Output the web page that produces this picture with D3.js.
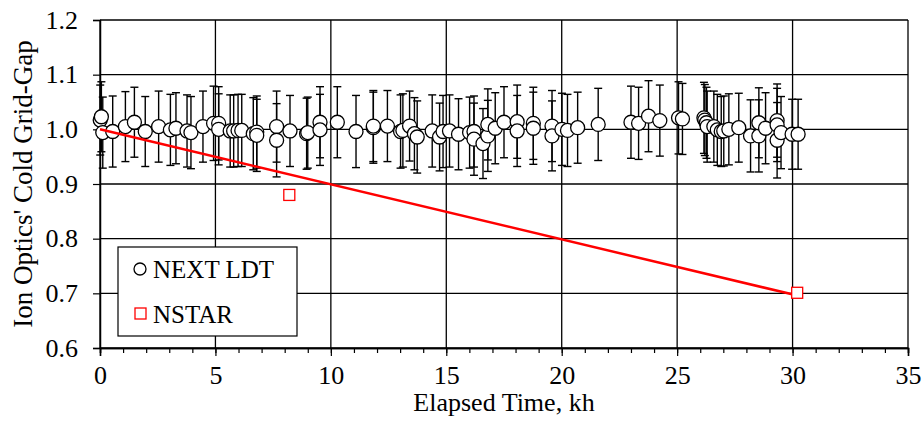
<!DOCTYPE html>
<html><head><meta charset="utf-8">
<script src="https://cdn.jsdelivr.net/npm/d3@7"></script>
<style>body{margin:0;background:#fff}svg{display:block}text{font-family:"Liberation Serif","Times New Roman",serif;fill:#000}</style>
</head><body><div id="chart"></div>
<script>
// NEXT LDT data: elapsed time (kh), normalized cold grid gap, error half-width
const ldtTime = [0.01,0.06,0.12,0.55,1.10,1.49,1.96,2.54,3.05,3.29,3.77,3.94,4.46,4.92,5.14,5.14,5.64,5.79,5.98,6.14,6.64,6.79,6.79,7.65,7.65,8.23,8.95,9.00,9.53,9.53,10.28,11.09,11.84,11.84,12.45,13.02,13.12,13.41,13.62,13.74,14.39,14.71,14.86,15.14,15.53,16.01,16.20,16.20,16.59,16.80,16.80,17.12,17.50,18.07,18.07,18.77,18.77,19.58,19.58,20.01,20.25,20.69,21.58,23.00,23.33,23.76,24.25,25.06,25.23,26.16,26.20,26.27,26.30,26.59,26.74,26.91,27.02,27.24,27.67,28.18,28.54,28.54,28.83,29.33,29.33,29.33,29.50,29.98,30.24];
const ldtGap  = [1.017,1.023,0.994,0.996,1.005,1.013,0.996,1.005,0.999,1.002,0.997,0.994,1.005,1.011,1.011,1.000,0.997,0.997,0.998,0.998,0.992,0.995,0.989,1.005,0.980,0.997,0.992,0.994,1.013,0.999,1.013,0.996,1.003,1.006,1.006,0.996,0.998,1.006,0.992,0.986,0.997,0.986,0.996,0.997,0.991,0.994,0.996,0.982,0.974,0.988,1.009,1.002,1.013,1.014,0.997,1.011,1.002,1.006,0.988,1.000,0.998,1.003,1.009,1.013,1.011,1.024,1.016,1.021,1.019,1.021,1.017,1.012,1.005,1.005,0.999,0.996,0.997,1.000,1.003,0.988,0.988,1.012,1.002,1.016,1.008,0.980,0.994,0.991,0.991];
const ldtErr  = [0.064,0.064,0.065,0.065,0.064,0.064,0.064,0.065,0.065,0.065,0.066,0.066,0.065,0.068,0.067,0.065,0.066,0.066,0.066,0.066,0.066,0.066,0.066,0.065,0.067,0.065,0.065,0.065,0.065,0.065,0.065,0.066,0.065,0.065,0.065,0.067,0.067,0.064,0.066,0.066,0.066,0.062,0.066,0.066,0.065,0.065,0.065,0.066,0.064,0.065,0.065,0.065,0.065,0.067,0.065,0.066,0.066,0.065,0.064,0.066,0.066,0.065,0.066,0.066,0.066,0.065,0.065,0.066,0.065,0.065,0.065,0.065,0.065,0.065,0.065,0.064,0.064,0.065,0.063,0.066,0.066,0.064,0.065,0.067,0.067,0.069,0.066,0.064,0.064];
// NSTAR data
const nstarTime = [8.2, 30.2];
const nstarGap  = [0.880, 0.701];
// NSTAR linear trend line end points
const fitTime = [0, 30.3];
const fitGap  = [1.000, 0.695];
// axis ticks
const xTicks = [0,5,10,15,20,25,30,35];
const xMinorTicks = d3.range(0,36,1);
const yTicks = [0.6,0.7,0.8,0.9,1.0,1.1,1.2];
const seriesNames = ["NEXT LDT","NSTAR"];

const W = 924, H = 422;
const m = {left:100, right:16, top:20, bottom:74};
const svg = d3.select("#chart").append("svg").attr("width",W).attr("height",H);
const x = d3.scaleLinear().domain([0,35]).range([m.left, W-m.right]);
const y = d3.scaleLinear().domain([0.6,1.2]).range([H-m.bottom, m.top]);

// gridlines
const g = svg.append("g");
g.selectAll(".hg").data(yTicks).join("line")
  .attr("x1",x(0)).attr("x2",x(35)).attr("y1",d=>y(d)).attr("y2",d=>y(d))
  .attr("stroke","#000").attr("stroke-width",1.3);
g.selectAll(".vg").data(xTicks).join("line")
  .attr("y1",y(0.6)).attr("y2",y(1.2)).attr("x1",d=>x(d)).attr("x2",d=>x(d))
  .attr("stroke","#000").attr("stroke-width",1.3);

// axes
const xMinor = d3.axisBottom(x).tickValues(xMinorTicks).tickSize(5).tickFormat("");
const xAx = d3.axisBottom(x).tickValues(xTicks).tickSize(8).tickPadding(10).tickFormat(d3.format("d"));
const yAx = d3.axisLeft(y).tickValues(yTicks).tickSize(7).tickPadding(15).tickFormat(d3.format(".1f"));
const gxm = svg.append("g").attr("transform",`translate(0,${y(0.6)})`).call(xMinor);
const gx = svg.append("g").attr("transform",`translate(0,${y(0.6)})`).call(xAx);
const gy = svg.append("g").attr("transform",`translate(${x(0)},0)`).call(yAx);
[gxm,gx,gy].forEach(a=>{a.select(".domain").attr("stroke","#000").attr("stroke-width",1.5);
  a.selectAll(".tick line").attr("stroke","#000").attr("stroke-width",1.2);});
gx.selectAll("text").attr("font-size",26).attr("font-family","Liberation Serif");
gy.selectAll("text").attr("font-size",26).attr("font-family","Liberation Serif");

// axis titles
svg.append("text").attr("x",(x(0)+x(35))/2).attr("y",411).attr("text-anchor","middle")
  .attr("font-size",26).text("Elapsed Time, kh");
svg.append("text").attr("transform",`translate(32,${(y(0.6)+y(1.2))/2}) rotate(-90)`)
  .attr("text-anchor","middle").attr("font-size",27).text("Ion Optics' Cold Grid-Gap");

// error bars
const ldt = ldtTime.map((t,i)=>({t, v:ldtGap[i], e:ldtErr[i]}));
const eb = svg.append("g").attr("stroke","#000").attr("stroke-width",1.4);
ldt.forEach(d=>{
  eb.append("line").attr("x1",x(d.t)).attr("x2",x(d.t)).attr("y1",y(d.v+d.e)).attr("y2",y(d.v-d.e));
  eb.append("line").attr("x1",x(d.t)-4).attr("x2",x(d.t)+4).attr("y1",y(d.v+d.e)).attr("y2",y(d.v+d.e));
  eb.append("line").attr("x1",x(d.t)-4).attr("x2",x(d.t)+4).attr("y1",y(d.v-d.e)).attr("y2",y(d.v-d.e));
});
svg.append("g").selectAll("circle").data(ldt).join("circle")
  .attr("cx",d=>x(d.t)).attr("cy",d=>y(d.v)).attr("r",7)
  .attr("fill","#fff").attr("stroke","#000").attr("stroke-width",1.3);

// NSTAR fit line
const fit = fitTime.map((t,i)=>({t, v:fitGap[i]}));
svg.append("path").datum(fit).attr("fill","none").attr("stroke","#ff0000").attr("stroke-width",2.5)
  .attr("d", d3.line().x(d=>x(d.t)).y(d=>y(d.v)));
const nstar = nstarTime.map((t,i)=>({t, v:nstarGap[i]}));
svg.append("g").selectAll("rect").data(nstar).join("rect")
  .attr("x",d=>x(d.t)-5.5).attr("y",d=>y(d.v)-5.5).attr("width",11).attr("height",11)
  .attr("fill","#fff").attr("stroke","#ff0000").attr("stroke-width",1.3);

// legend
const lg = svg.append("g");
lg.append("rect").attr("x",118).attr("y",247).attr("width",179).attr("height",89)
  .attr("fill","#fff").attr("stroke","#000").attr("stroke-width",1.2);
lg.append("circle").attr("cx",140).attr("cy",269).attr("r",6).attr("fill","#fff").attr("stroke","#000").attr("stroke-width",1.3);
lg.append("text").attr("x",153).attr("y",278).attr("font-size",25).text(seriesNames[0]);
lg.append("rect").attr("x",135).attr("y",308).attr("width",11).attr("height",11).attr("fill","#fff").attr("stroke","#ff0000").attr("stroke-width",1.3);
lg.append("text").attr("x",153).attr("y",323).attr("font-size",25).text(seriesNames[1]);
</script></body></html>
